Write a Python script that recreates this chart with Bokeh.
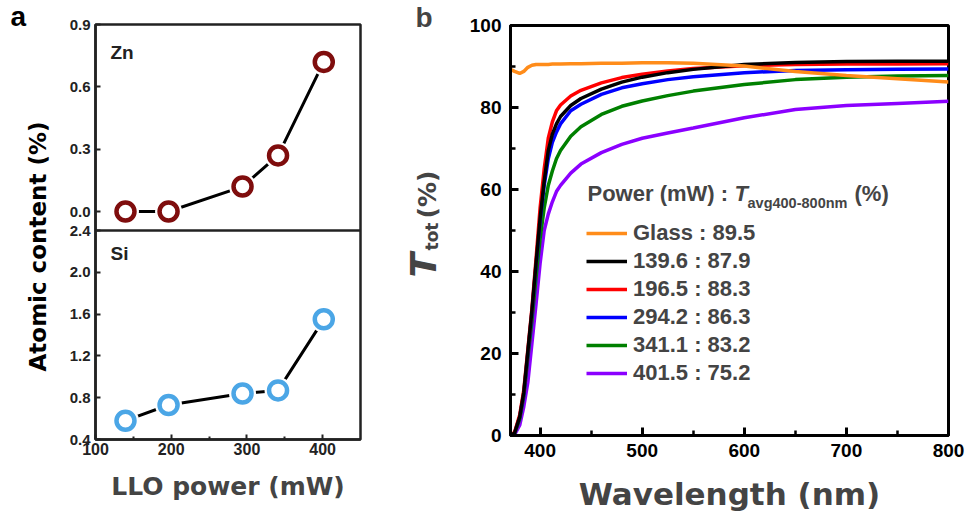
import math
from bokeh.plotting import figure
from bokeh.layouts import row
from bokeh.models import Range1d, FixedTicker, Label, Legend, LegendItem, Span
from bokeh.embed import file_html
from bokeh.resources import INLINE

# ---------------- panel a data ----------------
llo_power = [139.6, 196.5, 294.2, 341.1, 401.5]
zn_content = [0.00, 0.00, 0.12, 0.27, 0.72]
si_content = [0.58, 0.73, 0.84, 0.87, 1.55]
power_ticks = [100, 200, 300, 400]
power_minor = [150, 250, 350]
zn_ticks = [0.0, 0.3, 0.6, 0.9]
si_ticks = [0.4, 0.8, 1.2, 1.6, 2.0, 2.4]

# ---------------- panel b data ----------------
wavelength = [371, 375, 380, 384, 388, 392, 396, 400, 404, 408, 412, 416, 420,
              430, 440, 460, 480, 500, 525, 550, 600, 650, 700, 750, 800]
t_glass = [89.3, 88.8, 88.3, 88.8, 89.8, 90.3, 90.5, 90.5, 90.5, 90.5, 90.6, 90.6, 90.6,
           90.7, 90.7, 90.8, 90.8, 90.9, 90.9, 90.8, 90.1, 88.8, 87.8, 87.0, 86.2]
t_1396 = [0.0, 0.6, 4.5, 10.5, 20.5, 30.5, 42.0, 53.0, 62.0, 69.5, 73.5, 76.0, 77.8,
          80.5, 82.2, 84.5, 86.2, 87.4, 88.5, 89.3, 90.5, 91.0, 91.2, 91.3, 91.3]
t_1965 = [0.0, 0.8, 5.0, 11.0, 21.0, 31.0, 43.0, 55.5, 65.0, 72.5, 76.5, 79.2, 80.6,
          82.8, 84.2, 86.0, 87.3, 88.1, 88.9, 89.5, 90.2, 90.5, 90.6, 90.6, 90.7]
t_2942 = [0.0, 0.6, 4.5, 10.0, 20.0, 30.0, 41.5, 52.5, 61.0, 67.5, 71.5, 74.0, 76.0,
          79.2, 80.8, 83.2, 84.8, 85.8, 86.8, 87.5, 88.5, 89.0, 89.2, 89.3, 89.4]
t_3411 = [0.0, 0.5, 4.0, 9.5, 19.0, 28.0, 38.5, 48.0, 55.5, 61.0, 64.5, 67.5, 69.5,
          73.0, 75.3, 78.3, 80.3, 81.6, 82.9, 84.0, 85.6, 86.8, 87.4, 87.7, 87.8]
t_4015 = [0.0, 0.2, 2.5, 7.0, 13.0, 22.5, 32.0, 42.0, 50.0, 54.0, 57.0, 59.5, 61.0,
          64.0, 66.2, 69.0, 71.0, 72.5, 73.8, 75.0, 77.5, 79.5, 80.5, 81.0, 81.5]
series_names = ["Glass", "139.6", "196.5", "294.2", "341.1", "401.5"]
t_avg = ["89.5", "87.9", "88.3", "86.3", "83.2", "75.2"]
series_values = [t_glass, t_1396, t_1965, t_2942, t_3411, t_4015]
series_colors = ["#ff8c1a", "#000000", "#ff0000", "#0000ff", "#008000", "#8b00ff"]
wl_ticks = [400, 500, 600, 700, 800]
wl_minor = [450, 550, 650, 750]
t_ticks = [0, 20, 40, 60, 80, 100]
t_minor = [10, 30, 50, 70, 90]

TICKF = "Liberation Sans"
TITLEF = "DejaVu Sans"
ZN_COLOR = "#7f0d0d"
SI_COLOR = "#4ba6e6"
FRAME_A = "#222222"
H = 517


def blank(width):
    f = figure(width=width, height=H, x_range=Range1d(0, width), y_range=Range1d(0, H),
               x_axis_type=None, y_axis_type=None, min_border=0, title=None,
               output_backend="svg", toolbar_location=None)
    f.outline_line_color = None
    f.grid.visible = False
    f.frame_align = False
    return f


# ---------------- left title strip (panel a) ----------------
ta = blank(58)
ta.add_layout(Label(x=37, y=271, x_units="screen", y_units="screen",
                    text="Atomic content (%)", angle=math.pi / 2, text_align="center",
                    text_baseline="alphabetic", text_font=TITLEF, text_font_style="bold",
                    text_font_size="23px", text_color="black"))
ta.add_layout(Label(x=10, y=486, x_units="screen", y_units="screen", text="a",
                    text_font=TICKF, text_font_style="bold", text_font_size="28px",
                    text_color="black"))

# ---------------- panel a ----------------
FRAME_A_H = 415          # frame height in px
ZN_PART = 206            # px taken by the Zn sub-panel
zn_lo, zn_hi = -0.0914, 0.9
si_lo, si_div = 0.4, 2.4
si_top = si_lo + (si_div - si_lo) * FRAME_A_H / (FRAME_A_H - ZN_PART)
zn_bottom = zn_hi - (zn_hi - zn_lo) * FRAME_A_H / ZN_PART

pa = figure(width=335, height=H, x_range=Range1d(100, 450),
            y_range=Range1d(si_lo, si_top),
            min_border_left=37, min_border_right=33, min_border_top=24,
            min_border_bottom=78, output_backend="svg", toolbar_location=None)
pa.frame_align = False
pa.extra_y_ranges = {"zn": Range1d(zn_bottom, zn_hi)}
pa.grid.visible = False
pa.outline_line_color = FRAME_A
pa.outline_line_width = 2.5


def zn_to_si(z):
    return si_lo + (z - zn_bottom) / (zn_hi - zn_bottom) * (si_top - si_lo)


zn_pos = [zn_to_si(z) for z in zn_ticks]
overrides = {t: f"{t:.1f}" for t in si_ticks}
for z, pz in zip(zn_ticks, zn_pos):
    overrides[pz] = f"{z:.1f}"
pa.yaxis.ticker = FixedTicker(ticks=si_ticks + zn_pos)
pa.yaxis.major_label_overrides = overrides
pa.xaxis.ticker = FixedTicker(ticks=power_ticks, minor_ticks=power_minor)
pa.xaxis.axis_label = "LLO power (mW)"
for ax in pa.axis:
    ax.major_tick_in = 5
    ax.major_tick_out = 0
    ax.minor_tick_in = 3
    ax.minor_tick_out = 0
    ax.axis_line_width = 2.5
    ax.axis_line_color = FRAME_A
    ax.major_tick_line_width = 2
    ax.minor_tick_line_width = 2
    ax.major_tick_line_color = FRAME_A
    ax.minor_tick_line_color = FRAME_A
    ax.major_label_text_font = TICKF
    ax.major_label_text_font_style = "bold"
    ax.major_label_text_color = "#222222"
pa.yaxis.major_label_text_font_size = "15px"
pa.yaxis.major_label_standoff = 5
pa.xaxis.major_label_text_font_size = "16px"
pa.xaxis.major_label_standoff = 3
pa.xaxis.axis_label_text_font = TITLEF
pa.xaxis.axis_label_text_font_style = "bold"
pa.xaxis.axis_label_text_font_size = "25px"
pa.xaxis.axis_label_standoff = 14

pa.add_layout(Span(location=si_div, dimension="width", line_color=FRAME_A, line_width=2.5))

# Zn series
pa.line(llo_power, zn_content, y_range_name="zn", line_color="black", line_width=3)
pa.scatter(llo_power, zn_content, y_range_name="zn", size=27, fill_color="white", line_color=None)
pa.scatter(llo_power, zn_content, y_range_name="zn", size=18, fill_color="white",
           line_color=ZN_COLOR, line_width=4.5)
# Si series
pa.line(llo_power, si_content, line_color="black", line_width=3)
pa.scatter(llo_power, si_content, size=27, fill_color="white", line_color=None)
pa.scatter(llo_power, si_content, size=18, fill_color="white",
           line_color=SI_COLOR, line_width=4.5)

pa.add_layout(Label(x=15, y=377, x_units="screen", y_units="screen", text="Zn",
                    text_font=TICKF, text_font_style="bold", text_font_size="19px",
                    text_color="#222222"))
pa.add_layout(Label(x=15, y=176, x_units="screen", y_units="screen", text="Si",
                    text_font=TICKF, text_font_style="bold", text_font_size="19px",
                    text_color="#222222"))

# ---------------- title strip (panel b) ----------------
tb = blank(73)
tb.add_layout(Label(x=30, y=240, x_units="screen", y_units="screen", text="T",
                    angle=math.pi / 2, text_baseline="alphabetic",
                    text_font=TITLEF, text_font_style="bold italic",
                    text_font_size="36px"))
tb.add_layout(Label(x=38, y=267, x_units="screen", y_units="screen", text="tot",
                    angle=math.pi / 2, text_baseline="alphabetic",
                    text_font=TITLEF, text_font_style="bold",
                    text_font_size="17px"))
tb.add_layout(Label(x=34, y=299, x_units="screen", y_units="screen", text="(%)",
                    angle=math.pi / 2, text_baseline="alphabetic",
                    text_font=TITLEF, text_font_style="bold",
                    text_font_size="25px"))
tb.add_layout(Label(x=22, y=485, x_units="screen", y_units="screen", text="b",
                    text_font=TICKF, text_font_style="bold", text_font_size="28px"))

# ---------------- panel b ----------------
pb = figure(width=499, height=H, x_range=Range1d(371, 800), y_range=Range1d(0, 100),
            min_border_left=40, min_border_right=17, min_border_top=25,
            min_border_bottom=82, output_backend="svg", toolbar_location=None)
pb.frame_align = False
pb.grid.visible = False
pb.outline_line_color = "black"
pb.outline_line_width = 3
pb.xaxis.ticker = FixedTicker(ticks=wl_ticks, minor_ticks=wl_minor)
pb.yaxis.ticker = FixedTicker(ticks=t_ticks, minor_ticks=t_minor)
for ax in pb.axis:
    ax.major_tick_in = 8
    ax.major_tick_out = 0
    ax.minor_tick_in = 5
    ax.minor_tick_out = 0
    ax.axis_line_width = 3
    ax.major_tick_line_width = 3
    ax.minor_tick_line_width = 2.5
    ax.major_label_text_font = TICKF
    ax.major_label_text_font_style = "bold"
    ax.major_label_text_font_size = "19px"
    ax.major_label_text_color = "black"
pb.yaxis.major_label_standoff = 9
pb.xaxis.major_label_standoff = 8
pb.xaxis.axis_label = "Wavelength (nm)"
pb.xaxis.axis_label_text_font = TITLEF
pb.xaxis.axis_label_text_font_style = "bold"
pb.xaxis.axis_label_text_font_size = "31px"
pb.xaxis.axis_label_standoff = 16

renderers = {}
for idx in [5, 4, 3, 2, 1, 0]:
    renderers[idx] = pb.line(wavelength, series_values[idx], line_color=series_colors[idx],
                             line_width=3.5)

items = [LegendItem(label=f"{series_names[i]} : {t_avg[i]}", renderers=[renderers[i]])
         for i in range(len(series_names))]
legend = Legend(items=items, location=(76, 49), padding=0, margin=0,
                border_line_alpha=0, background_fill_alpha=0,
                glyph_width=41, glyph_height=20, label_height=20, spacing=2,
                label_standoff=6, label_text_font=TICKF, label_text_font_style="bold",
                label_text_font_size="22px")
pb.add_layout(legend)

# legend title
pb.add_layout(Label(x=77, y=230, x_units="screen", y_units="screen", text="Power (mW) :",
                    text_font=TICKF, text_font_style="bold", text_font_size="22px"))
pb.add_layout(Label(x=224, y=230, x_units="screen", y_units="screen", text="T",
                    text_font=TICKF, text_font_style="bold italic", text_font_size="22px"))
pb.add_layout(Label(x=237, y=225, x_units="screen", y_units="screen", text="avg400-800nm",
                    text_font=TICKF, text_font_style="bold", text_font_size="14.5px"))
pb.add_layout(Label(x=344, y=230, x_units="screen", y_units="screen", text="(%)",
                    text_font=TICKF, text_font_style="bold", text_font_size="22px"))

layout = row(ta, pa, tb, pb)
open("out.html", "w").write(file_html(layout, INLINE))
